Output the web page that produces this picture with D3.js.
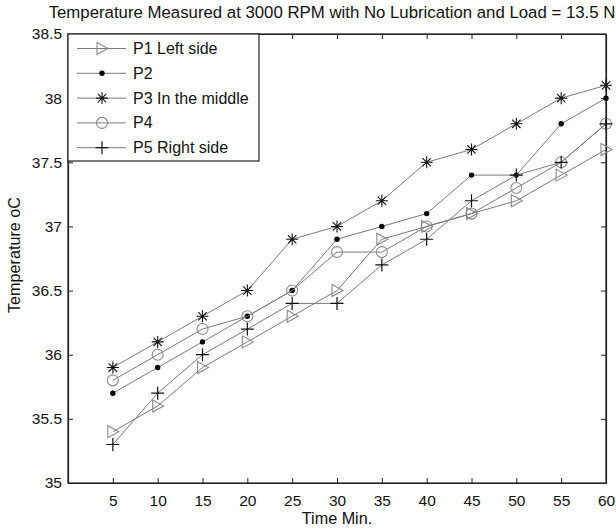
<!DOCTYPE html>
<html>
<head>
<meta charset="utf-8">
<script src="https://cdn.jsdelivr.net/npm/d3@7"></script>
<style>
  body { margin: 0; background: #fff; }
  text { font-family: "Liberation Sans", Arial, sans-serif; }
</style>
</head>
<body>
<svg id="chart" width="616" height="529"></svg>
<script>
const title = "Temperature Measured at 3000 RPM with No Lubrication and Load = 13.5 N";
const xLabel = "Time Min.";
const yLabel = "Temperature oC";
const times = [5, 10, 15, 20, 25, 30, 35, 40, 45, 50, 55, 60];
const xTicks = [5, 10, 15, 20, 25, 30, 35, 40, 45, 50, 55, 60];
const yTicks = [35, 35.5, 36, 36.5, 37, 37.5, 38, 38.5];
const seriesNames = ["P1 Left side", "P2", "P3 In the middle", "P4", "P5 Right side"];
const p1 = [35.4, 35.6, 35.9, 36.1, 36.3, 36.5, 36.9, 37.0, 37.1, 37.2, 37.4, 37.6];
const p2 = [35.7, 35.9, 36.1, 36.3, 36.5, 36.9, 37.0, 37.1, 37.4, 37.4, 37.8, 38.0];
const p3 = [35.9, 36.1, 36.3, 36.5, 36.9, 37.0, 37.2, 37.5, 37.6, 37.8, 38.0, 38.1];
const p4 = [35.8, 36.0, 36.2, 36.3, 36.5, 36.8, 36.8, 37.0, 37.1, 37.3, 37.5, 37.8];
const p5 = [35.3, 35.7, 36.0, 36.2, 36.4, 36.4, 36.7, 36.9, 37.2, 37.4, 37.5, 37.8];
const markers = ["triangle", "dot", "star", "circle", "plus"];

const seriesValues = [p1, p2, p3, p4, p5];

const svg = d3.select("#chart");
const m = { left: 68, right: 10, top: 34, bottom: 46 };
const W = 616, H = 529;
const x = d3.scaleLinear().domain([0, 60]).range([m.left, W - m.right]);
const y = d3.scaleLinear().domain([35, 38.5]).range([H - m.bottom, m.top]);

const lineColor = "#7a7a7a";

function drawMarker(g, type, cx, cy) {
  if (type === "triangle") {
    g.append("path")
      .attr("d", `M${cx-5},${cy-6} L${cx+6},${cy} L${cx-5},${cy+6} Z`)
      .attr("fill", "none").attr("stroke", "#8a8a8a").attr("stroke-width", 1.1);
  } else if (type === "dot") {
    g.append("circle").attr("cx", cx).attr("cy", cy).attr("r", 2.7).attr("fill", "#000");
  } else if (type === "star") {
    const s = 6, d = 4.2;
    g.append("path")
      .attr("d", `M${cx-s},${cy} L${cx+s},${cy} M${cx},${cy-s} L${cx},${cy+s} M${cx-d},${cy-d} L${cx+d},${cy+d} M${cx-d},${cy+d} L${cx+d},${cy-d}`)
      .attr("stroke", "#111").attr("stroke-width", 1.1);
  } else if (type === "circle") {
    g.append("circle").attr("cx", cx).attr("cy", cy).attr("r", 5.5)
      .attr("fill", "none").attr("stroke", "#8a8a8a").attr("stroke-width", 1.1);
  } else if (type === "plus") {
    const s = 6.5;
    g.append("path")
      .attr("d", `M${cx-s},${cy} L${cx+s},${cy} M${cx},${cy-s} L${cx},${cy+s}`)
      .attr("stroke", "#111").attr("stroke-width", 1.2);
  }
}

// frame
svg.append("rect").attr("x", m.left).attr("y", m.top)
  .attr("width", W - m.right - m.left).attr("height", H - m.bottom - m.top)
  .attr("fill", "#fff").attr("stroke", "#222").attr("stroke-width", 1.2);

// axes with inward ticks
const xAxisB = d3.axisBottom(x).tickValues(xTicks).tickSizeInner(-5).tickSizeOuter(0).tickPadding(12);
const xAxisT = d3.axisTop(x).tickValues(xTicks).tickSizeInner(-5).tickSizeOuter(0).tickFormat("");
const yAxisL = d3.axisLeft(y).tickValues(yTicks).tickSizeInner(-5).tickSizeOuter(0).tickPadding(6).tickFormat(d3.format("~g"));
const yAxisR = d3.axisRight(y).tickValues(yTicks).tickSizeInner(-5).tickSizeOuter(0).tickFormat("");

function styleAxis(g) {
  g.select(".domain").attr("stroke", "#222").attr("stroke-width", 1.2);
  g.selectAll(".tick line").attr("stroke", "#222");
  g.selectAll("text").attr("font-size", 15.5).attr("fill", "#111")
    .attr("font-family", "'Liberation Sans', Arial, sans-serif");
}
svg.append("g").attr("transform", `translate(0,${H - m.bottom})`).call(xAxisB).call(styleAxis);
svg.append("g").attr("transform", `translate(0,${m.top})`).call(xAxisT).call(styleAxis);
svg.append("g").attr("transform", `translate(${m.left},0)`).call(yAxisL).call(styleAxis);
svg.append("g").attr("transform", `translate(${W - m.right},0)`).call(yAxisR).call(styleAxis);

// lines and markers
const line = d3.line().x((d, i) => x(times[i])).y(d => y(d));
seriesValues.forEach((vals, si) => {
  const g = svg.append("g");
  g.append("path").datum(vals).attr("d", line)
    .attr("fill", "none").attr("stroke", lineColor).attr("stroke-width", 1);
  vals.forEach((v, i) => drawMarker(g, markers[si], x(times[i]), y(v)));
});

// legend
const lg = svg.append("g");
lg.append("rect").attr("x", m.left).attr("y", m.top).attr("width", 191).attr("height", 127)
  .attr("fill", "#fff").attr("stroke", "#222").attr("stroke-width", 1.2);
seriesNames.forEach((name, i) => {
  const yy = 48.5 + i * 24.8;
  lg.append("line").attr("x1", 77).attr("x2", 126).attr("y1", yy).attr("y2", yy)
    .attr("stroke", lineColor).attr("stroke-width", 1);
  drawMarker(lg, markers[i], 102, yy);
  lg.append("text").attr("x", 133).attr("y", yy + 5.5).attr("font-size", 16).attr("fill", "#111").text(name);
});

// title and labels
svg.append("text").attr("x", 332).attr("y", 18)
  .attr("text-anchor", "middle").attr("font-size", 16.8).attr("fill", "#111").text(title);
svg.append("text").attr("x", 337).attr("y", 524)
  .attr("text-anchor", "middle").attr("font-size", 16.2).attr("fill", "#111").text(xLabel);
svg.append("text").attr("transform", `translate(20,255) rotate(-90)`)
  .attr("text-anchor", "middle").attr("font-size", 16.2).attr("fill", "#111").text(yLabel);
</script>
</body>
</html>
